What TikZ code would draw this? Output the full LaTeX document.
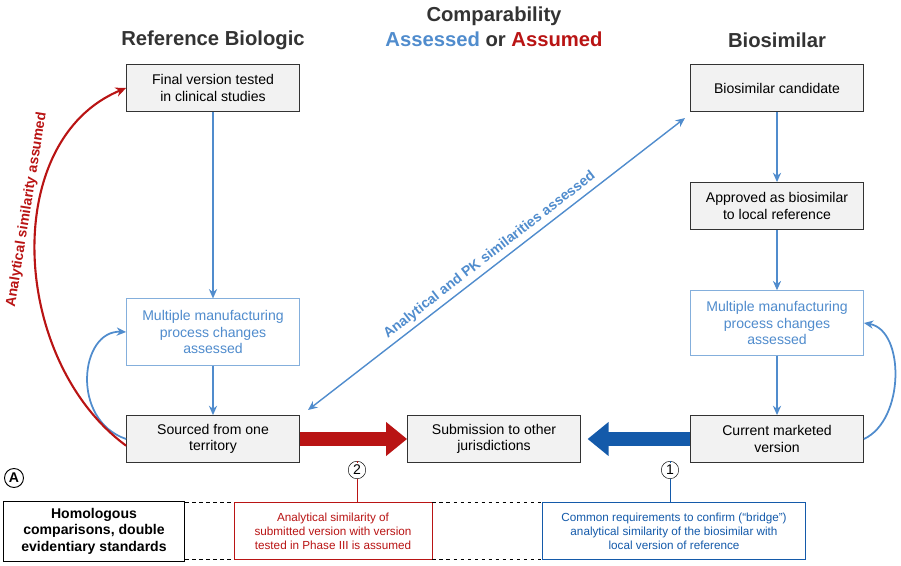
\documentclass[tikz,border=0pt]{standalone}
\usepackage{fontspec}
\setmainfont{Liberation Sans}
\usetikzlibrary{arrows.meta}
\definecolor{lblue}{RGB}{80,140,205}
\definecolor{dblue}{RGB}{20,90,170}
\definecolor{dred}{RGB}{185,20,20}
\definecolor{boxgray}{RGB}{242,242,242}
\tikzset{
  box/.style={draw=black!80, fill=boxgray, minimum width=5.2cm, minimum height=1.42cm, align=center, font=\large},
  flow/.style={lblue, line width=1.2pt, -{Stealth[length=8pt,width=7pt]}},
  num/.style={circle, draw, inner sep=1.5pt, font=\large},
  dashlink/.style={dashed, line width=0.8pt}
}
\begin{document}
\begin{tikzpicture}[x=0.03cm, y=-0.03cm]

\useasboundingbox (0,0) rectangle (901,566);

\node [font=\LARGE\bfseries, text=black!80] (hRef) at (213,40) {Reference Biologic};
\node [font=\LARGE\bfseries, text=black!80] (hComp) at (494,16) {Comparability};
\node [font=\LARGE\bfseries] (hAss) at (494,39) {\textcolor{lblue}{Assessed} \textcolor{black!80}{or} \textcolor{dred}{Assumed}};
\node [font=\LARGE\bfseries, text=black!80] (hBio) at (777,40) {Biosimilar};

\node [box] (final) at (213,88) {Final version tested\\in clinical studies};
\node [box, draw=lblue!70, fill=white, text=lblue, minimum height=2cm] (multL) at (213,332) {Multiple manufacturing\\process changes\\assessed};
\node [box] (sourced) at (213,439) {Sourced from one\\territory};
\node [box] (submit) at (494,439) {Submission to other\\jurisdictions};
\node [box] (current) at (777,439) {Current marketed\\version};
\node [box, draw=lblue!70, fill=white, text=lblue, minimum height=1.95cm] (multR) at (777,323) {Multiple manufacturing\\process changes\\assessed};
\node [box] (approved) at (777,206) {Approved as biosimilar\\to local reference};
\node [box] (candidate) at (777,88) {Biosimilar candidate};

\node [draw, fill=white, line width=0.8pt, minimum width=5.45cm, minimum height=1.8cm, align=center, font=\large\bfseries] (homol) at (94,531) {Homologous\\comparisons, double\\evidentiary standards};
\node [draw=dred, fill=white, text=dred, minimum width=5.95cm, minimum height=1.7cm, align=center] (redbox) at (333,531) {Analytical similarity of\\submitted version with version\\tested in Phase III is assumed};
\node [draw=dblue, fill=white, text=dblue, minimum width=7.9cm, minimum height=1.7cm, align=center] (bluebox) at (674,531) {Common requirements to confirm (``bridge'')\\analytical similarity of the biosimilar with\\local version of reference};

\node [num, line width=0.8pt] (cA) at (14,478) {\textbf{A}};
\node [num] (c2) at (357,470) {2};
\node [num] (c1) at (670,470) {1};

% vertical flows
\draw [flow] (final) -- (multL);
\draw [flow] (multL) -- (sourced);
\draw [flow] (candidate) -- (approved);
\draw [flow] (approved) -- (multR);
\draw [flow] (multR) -- (current);

% loops
\draw [flow, line width=1.5pt] (sourced.west) .. controls (70,420) and (80,330) .. (multL.west);
\draw [flow, line width=1.5pt] (current.east) .. controls (905,420) and (905,330) .. (multR.east);

% big arrows
\draw [dred, line width=12pt, -{Triangle[length=18pt,width=28pt]}] (sourced.east) -- (submit.west);
\draw [dblue, line width=12pt, -{Triangle[length=18pt,width=28pt]}] (current.west) -- ([xshift=0.2cm]submit.east);

% diagonal
\draw [lblue, line width=1.2pt, {Stealth[length=8pt,width=7pt]}-{Stealth[length=8pt,width=7pt]}] (308,410) -- (685,118)
  node [midway, above, sloped, font=\large\bfseries] {Analytical and PK similarities assessed};

% red curve
\draw [dred, line width=1.8pt, -{Stealth[length=9pt,width=8pt]}] ([yshift=-0.2cm]sourced.west) .. controls (10,360) and (0,140) .. (final.west)
  node [pos=0.6, sloped, above, font=\large\bfseries] {Analytical similarity assumed};

% callouts
\draw [dred] (c2 |- sourced.south) -- (c2.north);
\draw [dred] (c2.south) -- (c2 |- redbox.north);
\draw [dblue] (c1 |- current.south) -- (c1.north);
\draw [dblue] (c1.south) -- (c1 |- bluebox.north);

% dashed
\draw [dashlink] (homol.east |- redbox.north) -- (redbox.north west);
\draw [dashlink] (homol.east |- redbox.south) -- (redbox.south west);
\draw [dashlink] (redbox.north east) -- (bluebox.north west);
\draw [dashlink] (redbox.south east) -- (bluebox.south west);

\end{tikzpicture}
\end{document}
